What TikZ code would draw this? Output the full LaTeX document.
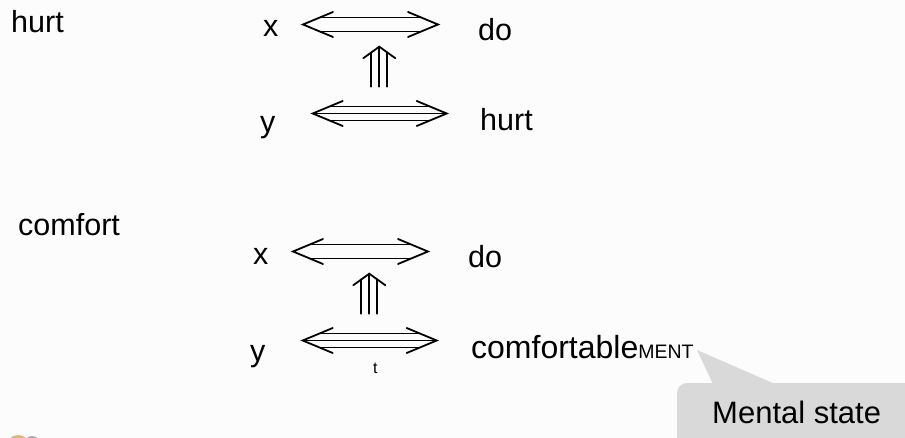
\documentclass[tikz,border=0pt]{standalone}
\usepackage{fontspec}
\setmainfont{Liberation Sans}
\usetikzlibrary{calc}
\definecolor{pagebg}{RGB}{251,252,251}
\definecolor{callbg}{RGB}{217,217,217}
\definecolor{logoorange}{RGB}{226,160,70}
\definecolor{logogray}{RGB}{150,150,150}
\tikzset{
  word/.style={anchor=base west, inner sep=0pt, font=\fontsize{30.5}{36}\selectfont},
  tinyword/.style={anchor=base west, inner sep=0pt, font=\fontsize{16}{19}\selectfont},
  rel/.style={line width=1.8pt, line cap=round, line join=miter}
}
% open heads at both tips, two rails in between
\newcommand{\relarrow}[2]{%
  \draw[rel] ($(#1)+(30,-12.5)$) -- (#1) -- ($(#1)+(30,12.5)$);
  \draw[rel] ($(#2)+(-30,-12.5)$) -- (#2) -- ($(#2)+(-30,12.5)$);
  \draw[rel] ($(#1)+(16.8,-7)$) -- ($(#2)+(-16.8,-7)$);
  \draw[rel] ($(#1)+(16.8,7)$) -- ($(#2)+(-16.8,7)$);
}
% upward triple arrow
\newcommand{\uprel}[2]{%
  \draw[rel] ($(#1)+(-16,11.5)$) -- (#1) -- ($(#1)+(16,11.5)$);
  \draw[rel] (#1) -- (#2);
  \draw[rel] ($(#1)+(-8,5.8)$) -- ($(#2)+(-8,0)$);
  \draw[rel] ($(#1)+(8,5.8)$) -- ($(#2)+(8,0)$);
}

\begin{document}
\begin{tikzpicture}[x=1pt, y=-1pt]
  \fill[pagebg] (0,0) rectangle (905,438);
  \useasboundingbox (0,0) rectangle (905,438);

  % hurt
  \node[word] (hurtw) at (11,33) {hurt};
  \node[word] (x1) at (263,37) {x};
  \node[word] (do1) at (478,41) {do};
  \node[word] (y1) at (260,133) {y};
  \node[word] (hurt1) at (480,131) {hurt};

  \coordinate (a1l) at (303,24.5);
  \coordinate (a1r) at (438,24.5);
  \coordinate (v1t) at (379.3,46.7);
  \coordinate (v1b) at (379.3,86.7);
  \coordinate (b1l) at (312.7,113.5);
  \coordinate (b1r) at (446.7,113.5);

  \relarrow{a1l}{a1r}
  \uprel{v1t}{v1b}
  \relarrow{b1l}{b1r}
  \draw[rel] (b1l) -- (b1r);

  % comfort
  \node[word] (comfortw) at (18,236) {comfort};
  \node[word] (x2) at (253,265) {x};
  \node[word] (do2) at (468,268) {do};
  \node[word] (y2) at (250,361) {y};
  \node[word, font=\fontsize{32}{36}\selectfont] (comf) at (471,358)
    {comfortable{\fontsize{19.5}{22}\selectfont MENT}};
  \node[tinyword] (t2) at (373,373) {t};

  \coordinate (a2l) at (293,251.5);
  \coordinate (a2r) at (428,251.5);
  \coordinate (v2t) at (369.3,273.7);
  \coordinate (v2b) at (369.3,313.7);
  \coordinate (b2l) at (302.7,340.5);
  \coordinate (b2r) at (436.7,340.5);

  \relarrow{a2l}{a2r}
  \uprel{v2t}{v2b}
  \relarrow{b2l}{b2r}
  \draw[rel] (b2l) -- (b2r);

  % callout
  \begin{scope}
    \clip (0,0) rectangle (905,438);
    \coordinate (tip) at (697,350);
    \fill[callbg, rounded corners=10pt] (677,383) rectangle (930,470);
    \fill[callbg] (713,384) -- (tip) -- (775,384) -- cycle;
    \node[word, font=\fontsize{31}{36}\selectfont] (ment) at (712,423) {Mental state};
    \fill[logoorange!80] (18,447) circle (12);
    \fill[logogray!80] (32,444) circle (8);
  \end{scope}
\end{tikzpicture}
\end{document}
